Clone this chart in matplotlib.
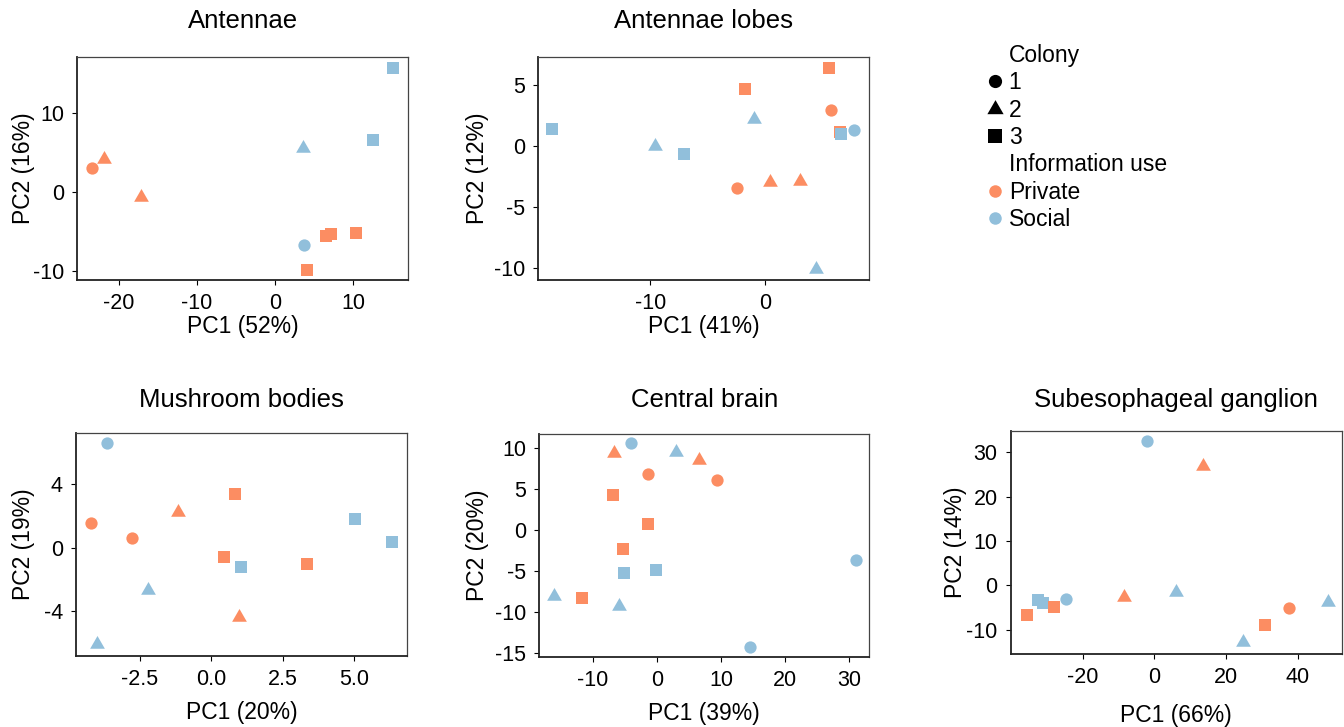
import matplotlib
matplotlib.use("Agg")
import matplotlib.pyplot as plt
from matplotlib.lines import Line2D

plt.rcParams['font.family'] = ['Liberation Sans', 'DejaVu Sans']
plt.rcParams['axes.unicode_minus'] = False

# ---------------- data ----------------
titles = ["Antennae", "Antennae lobes", "Mushroom bodies", "Central brain",
          "Subesophageal ganglion"]
pc1_var = [52, 41, 20, 39, 66]
pc2_var = [16, 12, 19, 20, 14]

antennae_pc1 = [-23.4, -21.9, -17.2, 3.6, 15.1, 12.5, 3.7, 6.5, 7.2, 10.4, 4.05]
antennae_pc2 = [3.0, 4.1, -0.7, 5.5, 15.7, 6.5, -6.8, -5.6, -5.4, -5.3, -9.9]
antennae_colony = [1, 2, 2, 2, 3, 3, 1, 3, 3, 3, 3]
antennae_info = ["Private", "Private", "Private", "Social", "Social", "Social",
                 "Social", "Private", "Private", "Private", "Private"]

lobes_pc1 = [-18.6, -9.56, -7.06, -1.75, -0.93, 5.63, 5.75, 6.56, 6.65, 7.8,
             -2.4, 0.44, 3.06, 4.46]
lobes_pc2 = [1.34, 0.0, -0.7, 4.65, 2.16, 6.4, 2.93, 1.15, 1.0, 1.29,
             -3.5, -3.0, -2.87, -10.1]
lobes_colony = [3, 2, 3, 3, 2, 3, 1, 3, 3, 1, 1, 2, 2, 2]
lobes_info = ["Social", "Social", "Social", "Private", "Social", "Private",
              "Private", "Private", "Social", "Social", "Private", "Private",
              "Private", "Social"]

mushroom_pc1 = [-3.66, -4.22, -2.77, -1.18, 0.83, 0.43, 1.03, 3.34, 5.04, 6.33,
                -2.22, 0.98, -4.01]
mushroom_pc2 = [6.55, 1.57, 0.63, 2.26, 3.39, -0.56, -1.23, -1.04, 1.78, 0.34,
                -2.65, -4.32, -6.04]
mushroom_colony = [1, 1, 1, 2, 3, 3, 3, 3, 3, 3, 2, 2, 2]
mushroom_info = ["Social", "Private", "Private", "Private", "Private", "Private",
                 "Social", "Private", "Social", "Social", "Social", "Private",
                 "Social"]

central_pc1 = [-4.0, -6.6, 2.95, 6.54, -1.4, 9.44, -6.85, -1.3, -5.2, -5.1,
               -0.1, 31.05, -15.95, -11.6, -5.87, 14.53]
central_pc2 = [10.57, 9.35, 9.47, 8.54, 6.79, 6.1, 4.27, 0.69, -2.32, -5.24,
               -4.84, -3.66, -8.05, -8.33, -9.27, -14.3]
central_colony = [1, 2, 2, 2, 1, 1, 3, 3, 3, 3, 3, 1, 2, 3, 2, 1]
central_info = ["Social", "Private", "Social", "Private", "Private", "Private",
                "Private", "Private", "Private", "Social", "Social", "Social",
                "Social", "Private", "Social", "Social"]

seg_pc1 = [-2.04, 13.7, 6.06, -8.46, -24.7, -32.5, -31.0, -28.0, -35.6, 37.5,
           48.6, 30.9, 24.7]
seg_pc2 = [32.6, 27.0, -1.6, -2.6, -3.1, -3.4, -4.1, -4.9, -6.8, -5.2, -3.7,
           -8.9, -12.9]
seg_colony = [1, 2, 2, 2, 1, 3, 3, 3, 3, 1, 2, 3, 2]
seg_info = ["Social", "Private", "Social", "Private", "Social", "Social",
            "Social", "Private", "Private", "Private", "Social", "Private",
            "Social"]

xticks = [[-20, -10, 0, 10], [-10, 0], [-2.5, 0.0, 2.5, 5.0],
          [-10, 0, 10, 20, 30], [-20, 0, 20, 40]]
xticklabels = [["-20", "-10", "0", "10"], ["-10", "0"],
               ["-2.5", "0.0", "2.5", "5.0"],
               ["-10", "0", "10", "20", "30"], ["-20", "0", "20", "40"]]
yticks = [[-10, 0, 10], [-10, -5, 0, 5], [-4, 0, 4],
          [-15, -10, -5, 0, 5, 10], [-10, 0, 10, 20, 30]]
yticklabels = [["-10", "0", "10"], ["-10", "-5", "0", "5"], ["-4", "0", "4"],
               ["-15", "-10", "-5", "0", "5", "10"],
               ["-10", "0", "10", "20", "30"]]

colony_levels = [1, 2, 3]
info_levels = ["Private", "Social"]

# ---------------- style ----------------
info_colors = {"Private": "#FC8D62", "Social": "#91BFDB"}
tri = [(0, 1.555), (1.347, -0.778), (-1.347, -0.778)]
colony_markers = {1: "o", 2: tri, 3: "s"}
colony_sizes = {1: 78, 2: 150, 3: 70}

panels = [
    (antennae_pc1, antennae_pc2, antennae_colony, antennae_info),
    (lobes_pc1, lobes_pc2, lobes_colony, lobes_info),
    (mushroom_pc1, mushroom_pc2, mushroom_colony, mushroom_info),
    (central_pc1, central_pc2, central_colony, central_info),
    (seg_pc1, seg_pc2, seg_colony, seg_info),
]

W, H = 1344, 727
# axes boxes in pixels (left, right, top, bottom)
boxes = [(77.3, 408, 57.3, 280), (538.3, 868.7, 57.3, 280),
         (76, 407.3, 433.3, 656), (539.3, 869.3, 434, 656.7),
         (1010.7, 1341.7, 431, 654)]
xlims = [(-25.3, 17.0), (-19.8, 9.07), (-4.74, 6.86), (-18.3, 33.1),
         (-40.1, 52.3)]
ylims = [(-11.2, 17.0), (-11.0, 7.25), (-6.79, 7.17), (-15.45, 11.7),
         (-15.5, 34.8)]
xlab_y = [-0.21, -0.21, -0.254, -0.257, -0.277]
ylab_x = [-0.164, -0.185, -0.157, -0.188, -0.166]
title_pad = [21, 21, 19, 19.4, 17.3]

fig = plt.figure(figsize=(W / 100, H / 100), dpi=100)

for i, (x, y, col, inf) in enumerate(panels):
    l, r, t, b = boxes[i]
    ax = fig.add_axes([l / W, (H - b) / H, (r - l) / W, (b - t) / H])
    for xi, yi, c, f in zip(x, y, col, inf):
        ax.scatter([xi], [yi], marker=colony_markers[c], s=colony_sizes[c],
                   color=info_colors[f], linewidths=0, zorder=3)
    ax.set_xlim(*xlims[i])
    ax.set_ylim(*ylims[i])
    ax.set_xticks(xticks[i])
    ax.set_xticklabels(xticklabels[i])
    ax.set_yticks(yticks[i])
    ax.set_yticklabels(yticklabels[i])
    ax.tick_params(direction="out", length=3.5, width=0.8, labelsize=15.5,
                   pad=6, colors="black")
    for side in ["top", "right"]:
        ax.spines[side].set_color("#444444")
        ax.spines[side].set_linewidth(0.9)
    for side in ["left", "bottom"]:
        ax.spines[side].set_color("#222222")
        ax.spines[side].set_linewidth(1.3)
    ax.set_xlabel(f"PC1 ({pc1_var[i]}%)", fontsize=16.5, va="center")
    ax.set_ylabel(f"PC2 ({pc2_var[i]}%)", fontsize=16.5, va="center")
    ax.xaxis.set_label_coords(0.5, xlab_y[i])
    ax.yaxis.set_label_coords(ylab_x[i], 0.5)
    ax.set_title(titles[i], fontsize=18.5, pad=title_pad[i])

# legend
blank = Line2D([], [], linestyle="none", marker=None)
handles = [blank]
labels = ["Colony"]
for c in colony_levels:
    handles.append(Line2D([], [], linestyle="none", marker=colony_markers[c],
                          color="black", markeredgewidth=0,
                          markersize=13.5 if c == 2 else 9.5))
    labels.append(str(c))
handles.append(blank)
labels.append("Information use")
for f in info_levels:
    handles.append(Line2D([], [], linestyle="none", marker="o",
                          color=info_colors[f], markeredgewidth=0,
                          markersize=9))
    labels.append(f)
fig.legend(handles, labels, loc="upper left",
           bbox_to_anchor=(988 / W, (H - 44) / H), frameon=False,
           fontsize=16.5, handlelength=0.6, handletextpad=0.3,
           labelspacing=0.19, borderpad=0, borderaxespad=0)

fig.savefig("out.png", dpi=100)
